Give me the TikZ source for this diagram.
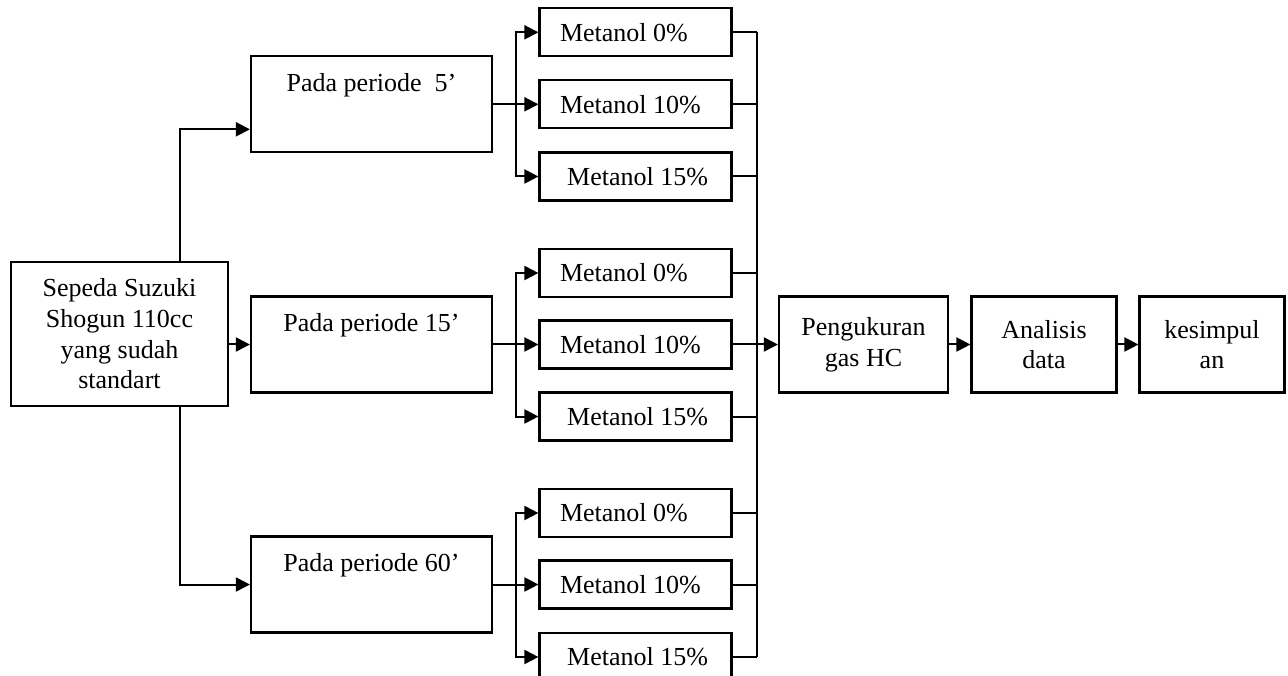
\documentclass[tikz,border=0pt]{standalone}
\usepackage{fontspec}
\setmainfont{Liberation Serif}
\usetikzlibrary{arrows.meta}

\begin{document}
\begin{tikzpicture}[x=1pt,y=-1pt,
    box/.style={draw,line width=2.2pt,align=center,inner sep=0pt,font=\fontsize{26}{30.7}\selectfont},
    mbox/.style={box,minimum width=192pt,minimum height=48pt},
    pbox/.style={box,minimum width=241pt,minimum height=96pt},
    fbox/.style={box,minimum width=145pt,minimum height=96pt},
    ptext/.style={anchor=base,inner sep=0pt,font=\fontsize{26}{30.7}\selectfont},
    ln/.style={line width=2pt},
    arr/.style={line width=2pt,-{Triangle[length=14pt,width=14pt]}}]
    \useasboundingbox (0,0) rectangle (1288,676);

    % Start box
    \node[box,minimum width=217pt,minimum height=144pt] (src) at (119.5,334) {Sepeda Suzuki\\Shogun 110cc\\yang sudah\\standart};

    % Period boxes
    \node[pbox] (p5) at (371.5,104.3) {};
    \node[ptext] (p5t) at ([yshift=-36.5pt]p5.north) {Pada periode\ \ 5'};
    \node[pbox] (p15) at (371.5,344.5) {};
    \node[ptext] (p15t) at ([yshift=-36.5pt]p15.north) {Pada periode 15'};
    \node[pbox] (p60) at (371.5,584.5) {};
    \node[ptext] (p60t) at ([yshift=-36.5pt]p60.north) {Pada periode 60'};

    % Methanol boxes
    \node[mbox] (m1a) at (635.5,32.3) {\makebox[151pt][l]{Metanol 0\%}};
    \node[mbox] (m1b) at (635.5,104.3) {\makebox[151pt][l]{Metanol 10\%}};
    \node[mbox] (m1c) at (635.5,176.5) {\makebox[145pt][r]{Metanol 15\%}};
    \node[mbox] (m2a) at (635.5,273) {\makebox[151pt][l]{Metanol 0\%}};
    \node[mbox] (m2b) at (635.5,344.5) {\makebox[151pt][l]{Metanol 10\%}};
    \node[mbox] (m2c) at (635.5,416.5) {\makebox[145pt][r]{Metanol 15\%}};
    \node[mbox] (m3a) at (635.5,513) {\makebox[151pt][l]{Metanol 0\%}};
    \node[mbox] (m3b) at (635.5,584.5) {\makebox[151pt][l]{Metanol 10\%}};
    \node[mbox] (m3c) at (635.5,657) {\makebox[145pt][r]{Metanol 15\%}};

    % Final steps
    \node[box,minimum width=169pt,minimum height=96pt] (ukur) at (863.5,344.5) {Pengukuran\\gas HC};
    \node[fbox] (anal) at (1044,344.5) {Analisis\\data};
    \node[fbox] (simp) at (1212,344.5) {kesimpul\\an};

    % Start to periods
    \draw[arr] ([xshift=60.5pt]src.north) |- ([yshift=-25pt]p5.west);
    \draw[arr] (src.east |- p15.west) -- (p15.west);
    \draw[arr] ([xshift=60.5pt]src.south) |- (p60.west);

    % Periods to methanol
    \draw[ln] (p5.east) -- ++(23pt,0) coordinate (s1);
    \draw[arr] (s1) |- (m1a.west);
    \draw[arr] (s1) -- (m1b.west);
    \draw[arr] (s1) |- (m1c.west);
    \draw[ln] (p15.east) -- ++(23pt,0) coordinate (s2);
    \draw[arr] (s2) |- (m2a.west);
    \draw[arr] (s2) -- (m2b.west);
    \draw[arr] (s2) |- (m2c.west);
    \draw[ln] (p60.east) -- ++(23pt,0) coordinate (s3);
    \draw[arr] (s3) |- (m3a.west);
    \draw[arr] (s3) -- (m3b.west);
    \draw[arr] (s3) |- (m3c.west);

    % Collect
    \draw[ln] (m1a.east) -- ++(24.5pt,0) coordinate (ctop);
    \draw[ln] (ctop) -- (ctop |- m3c.east);
    \draw[ln] (m1b.east) -- (ctop |- m1b.east);
    \draw[ln] (m1c.east) -- (ctop |- m1c.east);
    \draw[ln] (m2a.east) -- (ctop |- m2a.east);
    \draw[ln] (m2c.east) -- (ctop |- m2c.east);
    \draw[ln] (m3a.east) -- (ctop |- m3a.east);
    \draw[ln] (m3b.east) -- (ctop |- m3b.east);
    \draw[ln] (m3c.east) -- (ctop |- m3c.east);
    \draw[arr] (m2b.east) -- (ukur.west);

    % Final chain
    \draw[arr] (ukur.east) -- (anal.west);
    \draw[arr] (anal.east) -- (simp.west);
\end{tikzpicture}
\end{document}
